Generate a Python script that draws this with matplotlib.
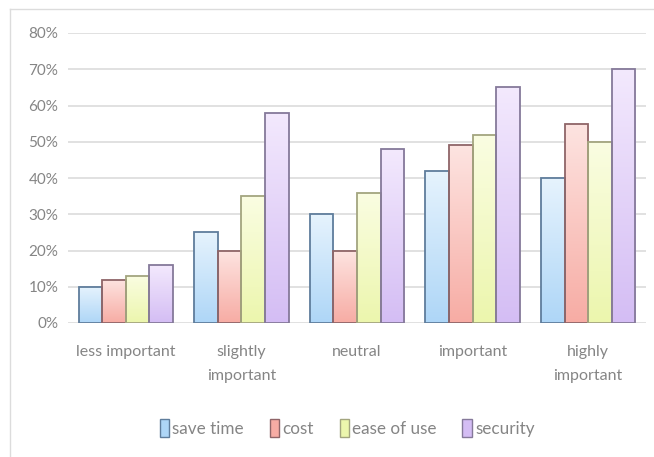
import numpy as np
import matplotlib
matplotlib.use('Agg')
import matplotlib.pyplot as plt
from matplotlib.colors import LinearSegmentedColormap
from matplotlib.patches import Patch
from matplotlib.lines import Line2D
from matplotlib.ticker import PercentFormatter

# Dati
categorie = ['less important', 'slightly\nimportant', 'neutral', 'important', 'highly\nimportant']
serie = ['save time', 'cost', 'ease of use', 'security']
save_time = [10, 25, 30, 42, 40]
cost = [12, 20, 20, 49, 55]
ease_of_use = [13, 35, 36, 52, 50]
security = [16, 58, 48, 65, 70]
valori = [save_time, cost, ease_of_use, security]
y_ticks = [0, 10, 20, 30, 40, 50, 60, 70, 80]

# Colori: (alto, basso, bordo)
colori = [
    ('#e6f3fd', '#aed6f7', '#5f7d9c'),
    ('#fde4e1', '#f7aca4', '#8f6568'),
    ('#fafde2', '#ecf6ad', '#a3a57f'),
    ('#f3e9fd', '#d4bdf4', '#85799a'),
]
grigio = '#858585'

plt.rcParams['font.family'] = ['Lato', 'DejaVu Sans']

fig = plt.figure(figsize=(6.54, 4.57), dpi=100)
ax = fig.add_axes([68 / 654, 134 / 457, 578 / 654, 290 / 457])

x = np.arange(len(categorie))
w = 0.204
grad = np.linspace(0, 1, 256).reshape(-1, 1)

for i, (vals, (top, bot, edge)) in enumerate(zip(valori, colori)):
    pos = x + (i - 1.5) * w
    bars = ax.bar(pos, vals, width=w, facecolor='none', edgecolor=edge,
                  linewidth=1.3, zorder=3)
    cmap = LinearSegmentedColormap.from_list(f'g{i}', [bot, top])
    for b in bars:
        bx, by = b.get_x(), b.get_y()
        im = ax.imshow(grad, cmap=cmap, origin='lower', aspect='auto',
                       extent=(bx, bx + b.get_width(), by, by + b.get_height()),
                       zorder=2.5, interpolation='bilinear')
        im.set_clip_path(b)

ax.set_xlim(-0.5, len(categorie) - 0.5)
ax.set_ylim(0, 80)
ax.set_yticks(y_ticks)
ax.yaxis.set_major_formatter(PercentFormatter(decimals=0))
ax.set_xticks(x)
ax.set_xticklabels(categorie)
ax.grid(axis='y', color='#d9d9d9', linewidth=1.1, zorder=0)
ax.set_axisbelow(True)
for s in ax.spines.values():
    s.set_visible(False)
ax.tick_params(axis='y', length=0, pad=7, labelsize=11, labelcolor=grigio)
ax.tick_params(axis='x', length=0, pad=16, labelsize=11.5, labelcolor=grigio)
for lab in ax.get_xticklabels():
    lab.set_verticalalignment('top')
    lab.set_linespacing(1.9)

# Legenda
handles = [Patch(facecolor=c[1], edgecolor=c[2], linewidth=1.0) for c in colori]
fig.legend(handles, serie, loc='center', bbox_to_anchor=(0.531, 0.063), ncol=4,
           frameon=False, fontsize=12.3, labelcolor=grigio, handlelength=0.55,
           handleheight=1.2, handletextpad=0.2, columnspacing=1.5)

# Cornice
fig.add_artist(Line2D([10 / 654, 1], [1 - 9 / 457, 1 - 9 / 457], color='#dcdcdc', lw=1.0))
fig.add_artist(Line2D([10 / 654, 10 / 654], [0, 1 - 9 / 457], color='#dcdcdc', lw=1.0))

fig.savefig('out.png', dpi=100)
